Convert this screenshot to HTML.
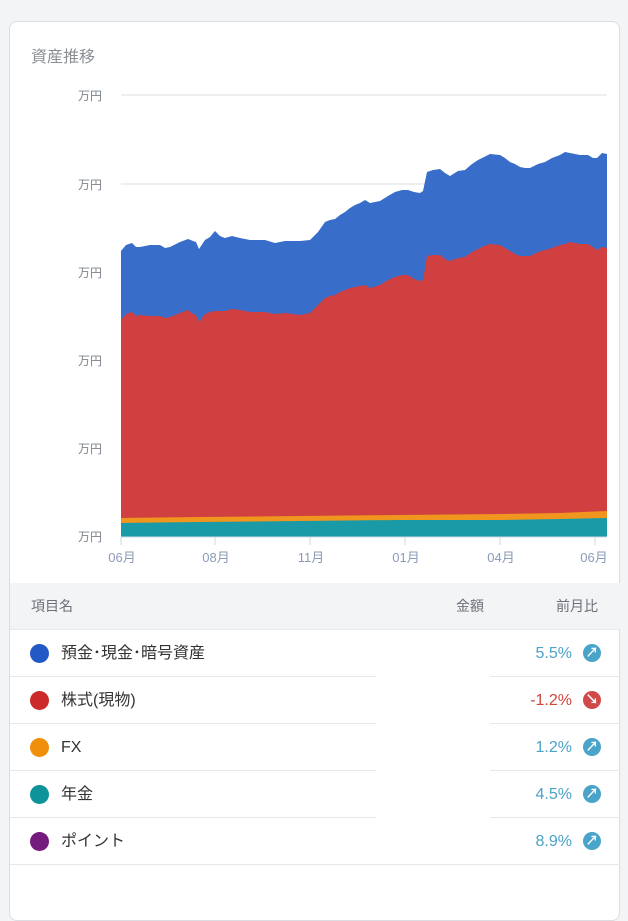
<!DOCTYPE html>
<html><head><meta charset="utf-8"><style>
body{margin:0;width:628px;height:882px;background:#f3f4f6;font-family:"Liberation Sans","Noto Sans CJK JP",sans-serif;overflow:hidden;position:relative}
.card{position:absolute;left:9px;top:21px;width:611px;height:900px;background:#fff;border:1px solid #dcdde0;border-radius:8px;box-sizing:border-box}
.title{position:absolute;left:31px;top:43px;font-size:16px;color:#8a8f96}
.hdr{position:absolute;left:10px;top:583px;width:610px;height:46px;background:#f3f4f6;border-bottom:1px solid #e6e8eb;font-size:14px;color:#6b7078}
.hdr span{position:absolute;top:0;line-height:46px}
.row{position:absolute;left:10px;width:610px;height:47px;line-height:47px}
.row .dot{position:absolute;left:20px;top:14px;width:19px;height:19px;border-radius:50%}
.row .lb{position:absolute;left:51px;top:0;font-size:16px;color:#333}
.row .pc{position:absolute;right:48px;top:0;font-size:16px;color:#4aa3c8}
.row .ic{position:absolute;left:573px;top:14px;width:18px;height:18px;border-radius:50%;background:#4aa3c8;color:#fff;font-size:13px;line-height:18px;text-align:center;font-weight:bold}
.ln{position:absolute;height:1px;background:#e6e8eb}
</style></head><body>
<div class="card"></div>
<div class="title">資産推移</div>
<svg style="position:absolute;left:0;top:0" width="628" height="582">
<g stroke="#e9e9ec" stroke-width="1.5">
<line x1="121" y1="95" x2="607" y2="95"/><line x1="121" y1="184" x2="607" y2="184"/>
<line x1="121" y1="272" x2="607" y2="272"/><line x1="121" y1="360" x2="607" y2="360"/>
<line x1="121" y1="448" x2="607" y2="448"/>
</g>
<polygon fill="#386dca" points="121,537 121,251 126,245 132,243 136,247 140,247 150,245 160,245 165,248 170,247 180,242 188,239 193,241 196,242 199,249 205,240 210,237 215,231 220,236 225,238 232,236 240,238 250,240 260,240 265,240 275,243 285,241 300,241 310,240 318,232 325,222 330,220 335,219 340,215 345,212 350,208 355,205 360,203 365,200 370,203 380,201 388,196 395,192 402,190 408,190 414,192 420,193 423,191 427,172 433,170 440,169 445,173 450,176 458,171 465,170 472,164 478,160 484,157 490,154 500,155 505,158 510,162 515,164 520,167 525,168 530,168 538,164 545,162 552,158 560,155 565,152 570,153 580,155 588,155 593,158 597,158 602,153 607,154 607,537"/>
<polygon fill="#d04040" points="121,537 121,320 126,314 132,312 136,316 140,315 150,316 160,316 165,318 170,317 180,313 188,310 193,314 196,315 199,322 205,314 210,312 215,311 220,311 225,311 232,309 240,310 250,312 260,312 265,312 275,314 285,313 300,315 310,313 318,305 325,298 330,296 335,295 340,292 345,290 350,288 355,287 360,286 365,285 370,288 380,285 388,280 395,277 402,275 408,275 414,279 420,281 423,280 427,256 433,255 440,255 445,259 450,261 458,258 465,257 472,252 478,249 484,246 490,244 500,245 505,248 510,251 515,254 520,256 525,256 530,256 538,252 545,250 552,248 560,245 565,244 570,242 580,244 588,244 593,247 597,250 602,247 607,248 607,537"/>
<polygon fill="#f0951e" points="121,537 121,518 200,517 300,516 400,515 500,514 560,513 607,511 607,537"/>
<polygon fill="#1a9aa6" points="121,537 121,523 200,522 300,521 400,520 500,520 560,519 607,518 607,537"/>
<line x1="121" y1="537" x2="607" y2="537" stroke="#cfd5e3" stroke-width="1"/>
<g stroke="#cfd5e3"><line x1="121" y1="537" x2="121" y2="545"/><line x1="215" y1="537" x2="215" y2="545"/><line x1="310" y1="537" x2="310" y2="545"/><line x1="405" y1="537" x2="405" y2="545"/><line x1="500" y1="537" x2="500" y2="545"/><line x1="595" y1="537" x2="595" y2="545"/></g>
<g font-size="12" fill="#7d838b" text-anchor="end" font-family="Liberation Sans,Noto Sans CJK JP,sans-serif">
<text x="102" y="100">万円</text><text x="102" y="189">万円</text><text x="102" y="277">万円</text><text x="102" y="365">万円</text><text x="102" y="453">万円</text><text x="102" y="541">万円</text></g>
<g font-size="13" fill="#8a9bb8" text-anchor="middle" font-family="Liberation Sans,Noto Sans CJK JP,sans-serif">
<text x="122" y="562">06月</text><text x="216" y="562">08月</text><text x="311" y="562">11月</text><text x="406" y="562">01月</text><text x="501" y="562">04月</text><text x="594" y="562">06月</text></g>
</svg>
<div class="hdr"><span style="left:21px">項目名</span><span style="left:446px">金額</span><span style="left:546px">前月比</span></div>
<div class="row" style="top:630px"><div class="dot" style="background:#2359c4"></div><div class="lb">預金･現金･暗号資産</div><div class="pc">5.5%</div><div class="ic">↗</div></div>
<div class="row" style="top:677px"><div class="dot" style="background:#cc2a2a"></div><div class="lb">株式(現物)</div><div class="pc" style="color:#d0443a">-1.2%</div><div class="ic" style="background:#d04a4a">↘</div></div>
<div class="row" style="top:724px"><div class="dot" style="background:#f0900a"></div><div class="lb">FX</div><div class="pc">1.2%</div><div class="ic">↗</div></div>
<div class="row" style="top:771px"><div class="dot" style="background:#0e939b"></div><div class="lb">年金</div><div class="pc">4.5%</div><div class="ic">↗</div></div>
<div class="row" style="top:818px"><div class="dot" style="background:#761b7e"></div><div class="lb">ポイント</div><div class="pc">8.9%</div><div class="ic">↗</div></div>
<div class="ln" style="left:10px;width:366px;top:676px"></div><div class="ln" style="left:490px;width:130px;top:676px"></div>
<div class="ln" style="left:10px;width:366px;top:723px"></div><div class="ln" style="left:490px;width:130px;top:723px"></div>
<div class="ln" style="left:10px;width:366px;top:770px"></div><div class="ln" style="left:490px;width:130px;top:770px"></div>
<div class="ln" style="left:10px;width:366px;top:817px"></div><div class="ln" style="left:490px;width:130px;top:817px"></div>
<div class="ln" style="left:10px;width:610px;top:864px"></div>
</body></html>
